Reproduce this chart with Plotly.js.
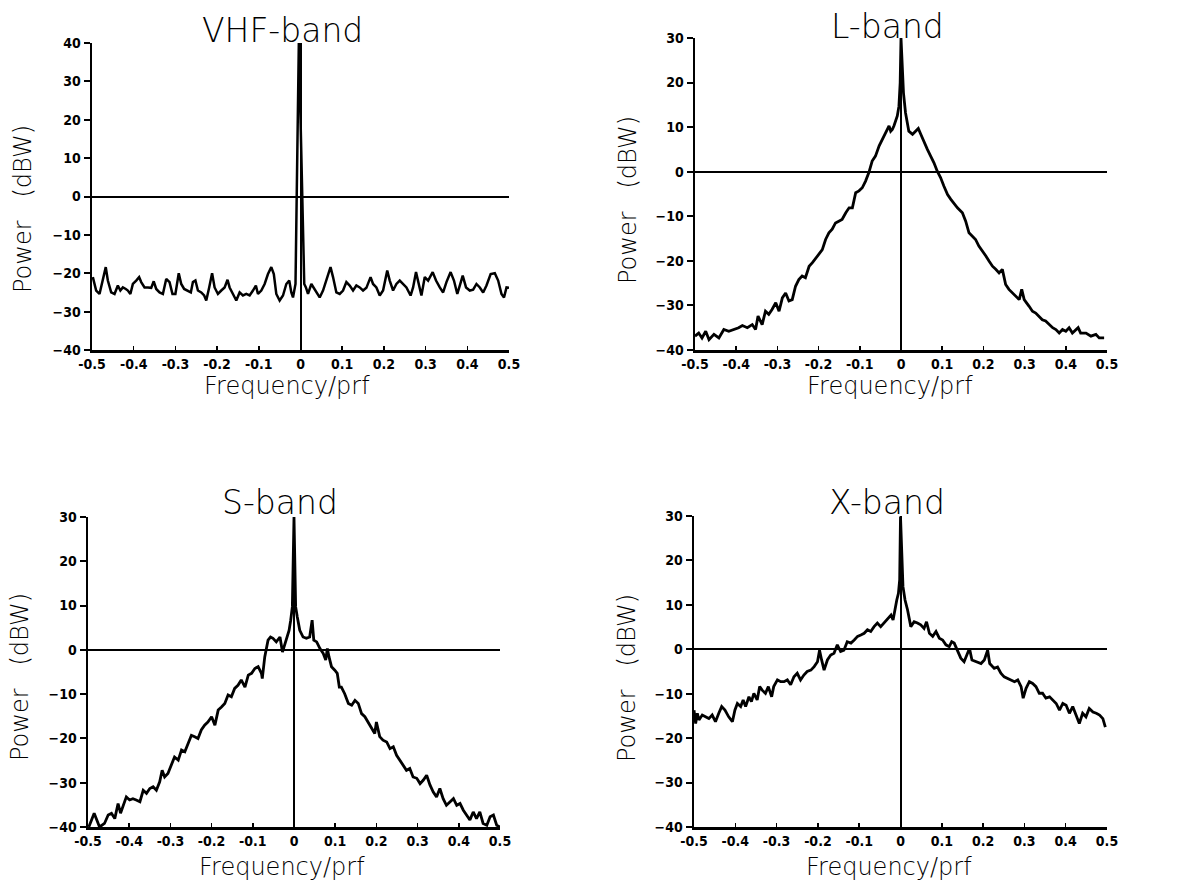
<!DOCTYPE html>
<html>
<head>
<meta charset="utf-8">
<script src="https://cdn.plot.ly/plotly-3.0.1.min.js"></script>
<style>html,body{margin:0;padding:0;background:#fff;}#chart{width:1201px;height:881px;}</style>
</head>
<body>
<div id="chart"></div>
<script>
// ---- Data ----
const panelTitles = ["VHF-band", "L-band", "S-band", "X-band"];
const xTickVals = [-0.5, -0.4, -0.3, -0.2, -0.1, 0, 0.1, 0.2, 0.3, 0.4, 0.5];
const xTickText = ["-0.5", "-0.4", "-0.3", "-0.2", "-0.1", "0", "0.1", "0.2", "0.3", "0.4", "0.5"];
const xTitle = "Frequency/prf";
const yTitle = "Power\u00a0\u00a0\u00a0(dBW)";

const vhfFreq = [-0.498,-0.490,-0.482,-0.474,-0.467,-0.462,-0.454,-0.446,-0.438,-0.432,-0.426,-0.419,-0.414,-0.408,-0.402,-0.394,-0.387,-0.382,-0.374,-0.366,-0.358,-0.352,-0.346,-0.338,-0.330,-0.322,-0.314,-0.307,-0.300,-0.292,-0.286,-0.279,-0.271,-0.263,-0.258,-0.252,-0.246,-0.238,-0.231,-0.226,-0.219,-0.212,-0.206,-0.198,-0.190,-0.182,-0.175,-0.170,-0.162,-0.154,-0.146,-0.138,-0.130,-0.122,-0.114,-0.107,-0.102,-0.094,-0.086,-0.078,-0.070,-0.064,-0.058,-0.050,-0.042,-0.034,-0.027,-0.022,-0.018,-0.014,-0.012,-0.004,0.009,0.013,0.018,0.026,0.032,0.038,0.046,0.054,0.062,0.072,0.078,0.086,0.094,0.102,0.110,0.118,0.126,0.134,0.142,0.150,0.158,0.168,0.174,0.182,0.190,0.198,0.208,0.214,0.222,0.230,0.238,0.246,0.254,0.264,0.270,0.277,0.282,0.290,0.298,0.306,0.317,0.325,0.334,0.342,0.350,0.360,0.368,0.376,0.382,0.389,0.397,0.406,0.414,0.422,0.430,0.438,0.446,0.456,0.466,0.474,0.482,0.488,0.494,0.500];
const vhfPower = [-21.0,-24.5,-25.4,-21.9,-18.4,-21.9,-25.0,-25.4,-23.2,-24.5,-23.7,-24.1,-24.5,-25.4,-22.8,-21.9,-21.0,-22.3,-23.7,-23.7,-23.8,-22.1,-24.1,-25.0,-25.4,-21.5,-22.3,-25.4,-25.4,-20.0,-22.8,-24.1,-24.5,-25.0,-22.3,-21.9,-24.5,-25.0,-25.8,-27.1,-23.7,-20.0,-23.7,-25.4,-24.5,-23.7,-21.7,-23.7,-25.4,-27.1,-25.0,-25.8,-25.4,-25.8,-24.5,-23.2,-25.4,-24.5,-22.8,-20.2,-18.4,-20.2,-25.4,-27.1,-25.8,-22.8,-21.9,-25.0,-26.3,-23.2,-22.8,40.0,-22.8,-23.7,-25.4,-22.8,-23.8,-25.0,-26.3,-24.5,-21.9,-18.4,-21.0,-25.0,-25.4,-24.5,-22.3,-23.2,-24.5,-23.2,-23.7,-24.5,-23.8,-21.0,-22.8,-23.7,-25.8,-24.5,-19.3,-21.9,-24.5,-22.8,-21.9,-22.8,-23.7,-25.8,-23.7,-19.7,-21.9,-25.8,-21.0,-21.9,-19.7,-21.9,-23.7,-25.0,-22.3,-19.7,-21.9,-25.4,-23.2,-20.6,-23.7,-24.5,-24.3,-22.8,-23.7,-25.0,-23.2,-20.2,-20.0,-21.9,-25.4,-26.3,-23.7,-23.8];

const lFreq = [-0.500,-0.491,-0.483,-0.474,-0.466,-0.454,-0.442,-0.430,-0.418,-0.406,-0.394,-0.385,-0.373,-0.361,-0.353,-0.347,-0.337,-0.329,-0.321,-0.313,-0.304,-0.296,-0.288,-0.280,-0.272,-0.264,-0.256,-0.248,-0.240,-0.232,-0.223,-0.215,-0.207,-0.199,-0.191,-0.183,-0.175,-0.167,-0.159,-0.151,-0.143,-0.134,-0.126,-0.118,-0.110,-0.102,-0.094,-0.086,-0.078,-0.070,-0.062,-0.053,-0.045,-0.037,-0.029,-0.025,-0.021,-0.017,-0.013,-0.009,-0.005,-0.002,0.000,0.003,0.006,0.011,0.015,0.019,0.028,0.036,0.042,0.048,0.056,0.064,0.072,0.080,0.088,0.096,0.104,0.113,0.121,0.129,0.137,0.149,0.157,0.165,0.173,0.181,0.189,0.198,0.206,0.214,0.222,0.230,0.238,0.246,0.254,0.262,0.270,0.279,0.287,0.293,0.299,0.311,0.319,0.327,0.335,0.343,0.351,0.360,0.368,0.376,0.384,0.392,0.400,0.408,0.416,0.430,0.436,0.449,0.461,0.473,0.481,0.493];
const lPower = [-36.9,-36.2,-37.3,-35.8,-37.7,-36.5,-37.3,-35.4,-35.8,-35.4,-35.0,-34.5,-35.0,-34.3,-35.4,-32.4,-34.3,-31.3,-32.0,-30.9,-29.4,-31.3,-28.3,-27.2,-29.0,-28.7,-25.7,-24.2,-23.4,-23.8,-21.2,-20.4,-19.5,-18.5,-17.5,-15.2,-13.7,-12.9,-11.5,-11.1,-10.7,-9.2,-8.1,-8.1,-4.7,-4.3,-3.6,-2.1,-0.2,2.4,3.5,5.8,7.3,8.8,10.3,9.1,9.5,10.3,11.4,12.5,14.7,20.0,30.0,23.7,17.7,13.2,11.0,9.1,8.4,9.1,9.7,8.4,6.5,5.0,3.5,2.0,0.1,-1.3,-3.2,-5.1,-6.2,-7.3,-8.1,-9.2,-11.1,-13.7,-14.4,-15.2,-16.7,-17.8,-18.9,-20.1,-21.2,-21.9,-22.7,-21.9,-25.3,-26.4,-27.2,-27.9,-28.7,-26.4,-28.7,-30.2,-31.3,-31.7,-32.4,-33.2,-33.5,-34.3,-35.0,-35.4,-36.2,-35.4,-35.8,-35.0,-36.2,-35.0,-36.2,-36.2,-36.9,-36.5,-37.3,-37.3];

const sFreq = [-0.498,-0.485,-0.472,-0.460,-0.451,-0.443,-0.435,-0.427,-0.421,-0.415,-0.407,-0.399,-0.391,-0.383,-0.374,-0.366,-0.358,-0.350,-0.342,-0.334,-0.326,-0.320,-0.314,-0.306,-0.298,-0.290,-0.281,-0.273,-0.265,-0.257,-0.249,-0.241,-0.233,-0.225,-0.217,-0.209,-0.200,-0.192,-0.184,-0.176,-0.168,-0.160,-0.152,-0.144,-0.136,-0.128,-0.119,-0.111,-0.103,-0.095,-0.087,-0.079,-0.077,-0.071,-0.063,-0.057,-0.051,-0.043,-0.034,-0.028,-0.022,-0.017,-0.012,-0.008,-0.004,0.000,0.002,0.004,0.008,0.014,0.022,0.030,0.038,0.044,0.048,0.055,0.063,0.071,0.077,0.081,0.085,0.091,0.099,0.105,0.110,0.115,0.123,0.132,0.140,0.148,0.156,0.164,0.172,0.180,0.188,0.196,0.200,0.208,0.216,0.225,0.233,0.241,0.249,0.257,0.265,0.273,0.281,0.289,0.298,0.306,0.314,0.322,0.330,0.338,0.346,0.354,0.362,0.370,0.379,0.387,0.395,0.403,0.411,0.419,0.427,0.435,0.443,0.451,0.459,0.468,0.476,0.484,0.492,0.500];
const sPower = [-40.0,-36.9,-40.0,-39.2,-37.3,-36.9,-38.1,-34.7,-36.9,-35.4,-33.2,-33.9,-33.6,-33.9,-34.3,-31.7,-32.4,-31.3,-30.9,-31.7,-29.8,-27.2,-28.7,-27.9,-26.0,-24.2,-24.9,-22.6,-23.0,-21.1,-19.3,-19.6,-20.0,-18.1,-17.0,-16.3,-15.1,-17.0,-13.6,-12.9,-12.1,-10.2,-10.6,-8.7,-8.0,-6.8,-8.4,-5.7,-5.3,-4.2,-3.8,-5.3,-6.5,-1.6,2.2,2.9,2.6,1.8,2.9,-0.5,1.4,2.9,4.4,6.7,9.7,30.0,21.0,9.7,7.4,4.4,2.9,2.6,2.9,6.7,2.2,1.8,0.3,-0.8,-2.3,0.3,-1.6,-3.8,-4.6,-5.3,-8.4,-8.4,-9.9,-12.1,-12.5,-11.4,-12.1,-14.4,-15.1,-16.3,-17.8,-18.9,-16.3,-19.6,-20.4,-20.8,-22.3,-21.9,-23.8,-24.9,-26.0,-27.2,-26.8,-28.7,-29.0,-30.2,-29.4,-28.3,-30.5,-32.1,-33.2,-31.3,-33.6,-35.1,-34.3,-33.6,-35.1,-34.7,-36.2,-37.3,-38.4,-36.6,-38.1,-36.6,-39.2,-39.6,-37.7,-37.3,-39.6,-40.0];

const xFreq = [-0.500,-0.496,-0.492,-0.488,-0.480,-0.472,-0.464,-0.456,-0.448,-0.440,-0.433,-0.425,-0.416,-0.407,-0.401,-0.395,-0.387,-0.381,-0.375,-0.367,-0.361,-0.355,-0.347,-0.341,-0.335,-0.327,-0.320,-0.312,-0.307,-0.298,-0.290,-0.282,-0.274,-0.266,-0.258,-0.250,-0.242,-0.234,-0.226,-0.217,-0.209,-0.201,-0.196,-0.191,-0.185,-0.177,-0.169,-0.161,-0.153,-0.145,-0.137,-0.129,-0.120,-0.112,-0.104,-0.096,-0.088,-0.080,-0.072,-0.064,-0.056,-0.048,-0.040,-0.032,-0.023,-0.018,-0.013,-0.009,-0.005,-0.002,0.000,0.003,0.006,0.011,0.017,0.025,0.033,0.041,0.049,0.057,0.063,0.070,0.078,0.086,0.094,0.102,0.110,0.118,0.124,0.130,0.138,0.146,0.154,0.162,0.167,0.173,0.187,0.195,0.203,0.211,0.216,0.227,0.235,0.243,0.251,0.259,0.268,0.276,0.284,0.292,0.297,0.304,0.312,0.320,0.328,0.336,0.344,0.352,0.361,0.369,0.377,0.385,0.393,0.401,0.409,0.417,0.425,0.433,0.441,0.449,0.457,0.466,0.474,0.482,0.490,0.496];
const xPower = [-13.7,-16.7,-14.4,-15.9,-14.8,-15.2,-15.6,-14.8,-16.3,-14.4,-12.9,-13.7,-15.2,-16.3,-13.7,-12.2,-12.9,-11.4,-12.9,-10.7,-11.8,-9.9,-11.4,-8.4,-9.2,-9.9,-8.4,-10.7,-8.4,-6.9,-7.3,-7.3,-6.9,-8.0,-6.2,-5.4,-6.9,-5.8,-5.0,-4.7,-3.9,-2.8,-0.2,-2.4,-4.7,-2.4,-1.3,-0.9,1.0,-0.5,-0.2,1.7,1.4,2.1,2.9,3.2,3.6,4.4,4.0,5.1,5.9,5.1,5.9,6.6,7.7,6.6,9.6,11.1,12.6,15.6,29.9,18.6,14.1,11.1,8.9,5.1,6.2,5.9,5.5,4.7,6.2,3.6,2.9,4.0,2.5,2.1,1.0,0.6,1.7,1.4,-0.5,-2.0,-2.8,-0.9,0.2,-2.4,-2.8,-3.2,-2.4,-0.2,-3.2,-4.3,-4.0,-5.4,-6.2,-6.5,-6.9,-7.3,-6.9,-8.4,-11.0,-8.8,-7.3,-7.7,-8.4,-9.9,-9.9,-11.0,-10.7,-11.4,-12.2,-13.7,-12.2,-12.6,-14.4,-12.9,-14.8,-16.7,-14.4,-15.2,-13.3,-14.1,-14.4,-14.8,-15.6,-17.5];

const yRanges = [[-40, 40], [-40, 30], [-40, 30], [-40, 30]];

// ---- Figure ----
const W = 1201, H = 881;
const px = v => v / W;
const py = v => 1 - v / H;

const domains = [
  {x: [92, 509], y: [43, 350]},
  {x: [695, 1107], y: [38, 350]},
  {x: [88, 500], y: [517, 827]},
  {x: [694, 1107], y: [516, 827]}
];
const series = [[vhfFreq, vhfPower], [lFreq, lPower], [sFreq, sPower], [xFreq, xPower]];
const titlePos = [[282, 31], [887, 27], [280, 503], [887, 502]];
const xTitlePos = [[287, 386], [890, 386], [282, 867], [889, 867]];
const yTitlePos = [[23, 209], [628, 200], [20, 677], [627, 678]];

const tickFont = {family: "'DejaVu Sans Condensed', 'Liberation Sans Narrow', sans-serif", size: 14, color: '#000', weight: 'bold'};
const titleFamily = "'DejaVu Sans', 'Liberation Sans', sans-serif";

const traces = [];
const layout = {
  width: W, height: H,
  margin: {l: 0, r: 0, t: 0, b: 0},
  paper_bgcolor: '#fff', plot_bgcolor: '#fff',
  showlegend: false,
  annotations: []
};

series.forEach((s, i) => {
  const n = i === 0 ? '' : String(i + 1);
  traces.push({
    x: s[0], y: s[1], type: 'scatter', mode: 'lines',
    xaxis: 'x' + n, yaxis: 'y' + n,
    line: {color: '#000', width: i === 0 ? 2.5 : 2.8},
    hoverinfo: 'skip'
  });
  const d = domains[i];
  layout['xaxis' + n] = {
    domain: [px(d.x[0]), px(d.x[1])],
    anchor: 'y' + n,
    range: [-0.5, 0.5],
    tickvals: xTickVals, ticktext: xTickText,
    showgrid: false,
    zeroline: true, zerolinecolor: '#000', zerolinewidth: 2,
    showline: true, linecolor: '#000', linewidth: 2.5,
    ticks: 'inside', ticklen: 4, tickwidth: 1.5, tickcolor: '#000',
    tickfont: tickFont,
    fixedrange: true
  };
  layout['yaxis' + n] = {
    domain: [py(d.y[1]), py(d.y[0])],
    anchor: 'x' + n,
    range: yRanges[i],
    dtick: 10, tick0: 0,
    showgrid: false,
    zeroline: true, zerolinecolor: '#000', zerolinewidth: 2,
    showline: true, linecolor: '#000', linewidth: 2.5,
    ticks: 'outside', ticklen: 6, tickwidth: 2, tickcolor: '#000',
    tickfont: tickFont,
    fixedrange: true
  };
  layout.annotations.push({
    text: panelTitles[i], xref: 'paper', yref: 'paper',
    x: px(titlePos[i][0]), y: py(titlePos[i][1]),
    xanchor: 'center', yanchor: 'middle', showarrow: false,
    font: {family: titleFamily, size: 33, color: '#000', weight: 200}
  });
  layout.annotations.push({
    text: xTitle, xref: 'paper', yref: 'paper',
    x: px(xTitlePos[i][0]), y: py(xTitlePos[i][1]),
    xanchor: 'center', yanchor: 'middle', showarrow: false,
    font: {family: titleFamily, size: 24, color: '#000', weight: 200}
  });
  layout.annotations.push({
    text: yTitle, xref: 'paper', yref: 'paper',
    x: px(yTitlePos[i][0]), y: py(yTitlePos[i][1]),
    xanchor: 'center', yanchor: 'middle', showarrow: false, textangle: -90,
    font: {family: titleFamily, size: 24, color: '#000', weight: 200}
  });
});

Plotly.newPlot('chart', traces, layout, {staticPlot: true, displayModeBar: false});
</script>
</body>
</html>
